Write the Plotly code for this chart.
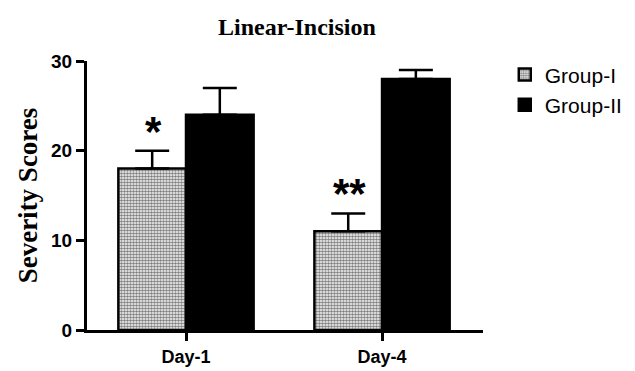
import plotly.graph_objects as go

categories = ["Day-1", "Day-4"]
group1_values = [18, 11]
group1_err = [2, 2]
group2_values = [24, 28]
group2_err = [3, 1]
significance = ["*", "**"]
y_ticks = [0, 10, 20, 30]

fig = go.Figure()
fig.add_trace(go.Bar(
    name="Group-I", x=categories, y=group1_values, legendgroup="g1",
    marker=dict(color="white", line=dict(color="black", width=2.5),
                pattern=dict(shape=".", fgcolor="black", bgcolor="white", size=3, solidity=0.6)),
    error_y=dict(type="data", symmetric=False, array=group1_err, arrayminus=[0, 0],
                 color="black", thickness=2.5, width=17),
))
fig.add_trace(go.Bar(
    name="Group-II", x=categories, y=group2_values, legendgroup="g2",
    marker=dict(color="black", line=dict(color="black", width=2.5)),
    error_y=dict(type="data", symmetric=False, array=group2_err, arrayminus=[0, 0],
                 color="black", thickness=2.5, width=17),
))

for cat, v, e, s in zip(categories, group1_values, group1_err, significance):
    fig.add_annotation(x=cat, y=v + e, text=s, showarrow=False, xshift=-33, yshift=-6,
                       yanchor="bottom",
                       font=dict(family="Liberation Sans", size=42, color="black", weight="bold"))

fig.update_layout(
    width=635, height=371,
    margin=dict(l=79, r=160, t=53, b=37),
    paper_bgcolor="white", plot_bgcolor="white",
    barmode="group", bargap=0.31, bargroupgap=0,
    title=dict(text="Linear-Incision", x=0.455, xanchor="center", y=0.949, yanchor="middle",
               font=dict(family="Liberation Serif", size=24, color="black", weight="bold")),
    legend=dict(x=1.055, y=1.025, xanchor="left", yanchor="top", traceorder="grouped",
                tracegroupgap=0, itemwidth=30,
                font=dict(family="Liberation Sans", size=21, color="black")),
    xaxis=dict(showline=True, linecolor="black", linewidth=3, ticks="outside", ticklen=8,
               tickwidth=3, tickcolor="black", range=[-0.505, 1.515],
               tickfont=dict(family="Liberation Sans", size=18, color="black", weight="bold")),
    yaxis=dict(range=[0, 30], tickvals=y_ticks, showline=True, linecolor="black", linewidth=3,
               ticks="outside", ticklen=8, tickwidth=3, tickcolor="black", showgrid=False,
               zeroline=False,
               tickfont=dict(family="Liberation Sans", size=19, color="black", weight="bold"),
               title=dict(text="Severity Scores", standoff=6,
                          font=dict(family="Liberation Serif", size=27, color="black", weight="bold"))),
)

fig.write_html("out.html")
